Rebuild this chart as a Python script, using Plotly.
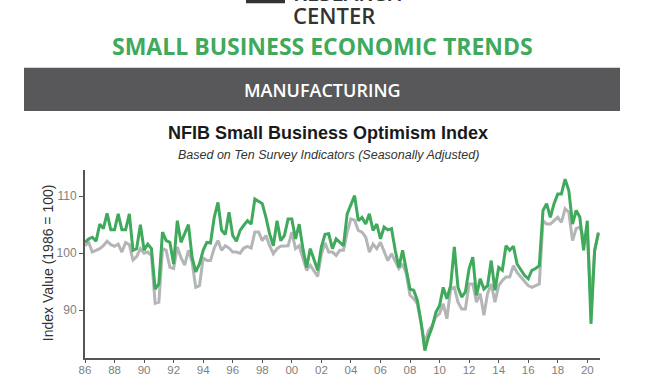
import plotly.graph_objects as go
import pandas as pd

# ---------------- data (quarterly) ----------------
start_quarter = "1986-01-01"
green_index = [
    101.9, 102.5, 102.8, 102.1, 105.1, 104.3, 107.0, 104.1, 104.1, 106.9,
    104.1, 104.1, 106.9, 100.5, 100.8, 105.0, 100.5, 101.6, 100.8, 93.7,
    94.6, 103.7, 102.2, 101.9, 98.1, 105.7, 101.9, 103.4, 105.0, 99.3,
    96.7, 98.1, 100.5, 101.9, 101.8, 106.3, 108.9, 104.0, 103.3, 107.2,
    103.1, 102.1, 104.0, 104.9, 105.7, 105.1, 109.5, 109.1, 108.7, 106.3,
    103.4, 101.3, 105.7, 102.2, 103.1, 106.0, 106.0, 102.5, 105.1, 100.8,
    97.5, 100.8, 99.0, 97.0, 101.1, 103.3, 103.4, 100.8, 102.5, 101.9,
    101.3, 106.9, 108.4, 110.1, 105.7, 106.3, 105.1, 106.9, 104.0, 105.1,
    102.5, 104.6, 104.1, 104.3, 100.5, 97.5, 100.5, 97.0, 93.7, 93.5,
    91.7, 87.9, 82.9, 85.3, 87.0, 89.6, 90.8, 94.0, 92.0, 94.3,
    101.1, 94.0, 92.3, 93.2, 97.3, 99.3, 92.6, 95.5, 93.7, 94.3,
    98.7, 93.5, 97.5, 97.0, 101.3, 100.5, 101.2, 98.1, 97.0, 96.1,
    95.5, 97.0, 97.3, 97.8, 107.5, 108.7, 106.3, 108.7, 110.4, 110.4,
    113.0, 111.0, 105.1, 107.5, 106.3, 100.5, 105.7, 87.6, 100.5, 103.5,
]
gray_index = [
    101.3, 101.9, 100.2, 100.5, 100.8, 101.3, 102.1, 101.5, 101.2, 101.6,
    100.2, 101.9, 101.5, 98.8, 99.4, 100.8, 100.0, 100.2, 99.6, 91.2,
    91.4, 100.8, 100.5, 97.5, 97.3, 101.1, 99.2, 97.9, 100.5, 98.5,
    94.0, 94.3, 99.2, 98.7, 98.7, 100.9, 102.2, 100.5, 101.3, 100.9,
    100.2, 100.2, 100.0, 100.9, 101.2, 100.9, 103.7, 103.7, 102.2, 103.1,
    101.3, 99.9, 100.8, 101.2, 101.3, 101.3, 103.7, 100.8, 101.3, 99.0,
    97.0, 97.9, 97.0, 95.9, 99.9, 101.8, 100.2, 100.2, 99.6, 100.5,
    100.5, 103.7, 106.0, 105.8, 104.0, 103.7, 102.8, 100.2, 101.6, 100.8,
    101.9, 100.2, 98.7, 99.9, 98.7, 97.3, 98.1, 96.4, 92.6, 92.0,
    91.1, 87.6, 84.1, 86.4, 87.3, 88.8, 89.4, 91.1, 88.5, 93.7,
    94.0, 91.4, 90.2, 90.2, 94.6, 94.6, 91.4, 92.9, 89.1, 92.9,
    94.6, 91.4, 94.3, 95.2, 95.8, 95.8, 97.8, 96.6, 95.8, 95.2,
    94.3, 94.0, 94.3, 94.6, 105.7, 105.1, 105.1, 105.7, 106.3, 105.4,
    107.8, 107.2, 102.2, 104.3, 104.6, 102.8, 103.4, 91.1, 100.5, 103.7,
]
quarters = pd.date_range(start_quarter, periods=len(green_index), freq="QS")
y_ticks = [90, 100, 110]

# ---------------- page geometry helpers ----------------
W, H = 649, 375
PL, PR, PT, PB = 85, 600, 170, 357.7


def px(x):
    return (x - PL) / (PR - PL)


def py(y):
    return (PB - y) / (PB - PT)


fig = go.Figure()
fig.add_trace(go.Scatter(x=quarters, y=gray_index, mode="lines",
                         line=dict(color="#b3b5b7", width=3), hoverinfo="skip"))
fig.add_trace(go.Scatter(x=quarters, y=green_index, mode="lines",
                         line=dict(color="#3fa95c", width=3), hoverinfo="skip"))

head = "Open Sans, Noto Sans, sans-serif"
arial = "Liberation Sans, Arial, sans-serif"

shapes = [
    dict(type="rect", xref="paper", yref="paper", x0=px(24), x1=px(620),
         y0=py(111), y1=py(68), fillcolor="#58585a", line=dict(width=0), layer="below"),
    dict(type="rect", xref="paper", yref="paper", x0=px(246), x1=px(285),
         y0=py(3.5), y1=py(-10), fillcolor="#333333", line=dict(width=0)),
]

annotations = [
    dict(text="RESEARCH", x=px(291), y=py(-8), xanchor="left", yanchor="middle",
         font=dict(family=head, size=22, color="#333333", weight=600), showarrow=False,
         xref="paper", yref="paper"),
    dict(text="CENTER", x=px(291), y=py(15), xanchor="left", yanchor="middle",
         font=dict(family=head, size=22, color="#333333", weight=600), showarrow=False,
         xref="paper", yref="paper"),
    dict(text="<b>SMALL BUSINESS ECONOMIC TRENDS</b>", x=px(322), y=py(46),
         xanchor="center", yanchor="middle",
         font=dict(family=head, size=23, color="#3fa95c"), showarrow=False,
         xref="paper", yref="paper"),
    dict(text="MANUFACTURING", x=px(322), y=py(90),
         xanchor="center", yanchor="middle",
         font=dict(family=head, size=18, color="#ffffff", weight=600), showarrow=False,
         xref="paper", yref="paper"),
    dict(text="<b>NFIB Small Business Optimism Index</b>", x=px(328), y=py(133),
         xanchor="center", yanchor="middle",
         font=dict(family=arial, size=18, color="#1a1a1a"), showarrow=False,
         xref="paper", yref="paper"),
    dict(text="<i>Based on Ten Survey Indicators (Seasonally Adjusted)</i>",
         x=px(328), y=py(155), xanchor="center", yanchor="middle",
         font=dict(family=arial, size=12.5, color="#333333"), showarrow=False,
         xref="paper", yref="paper"),
    dict(text="Index Value (1986 = 100)", x=px(48), y=py(263), textangle=-90,
         xanchor="center", yanchor="middle",
         font=dict(family=arial, size=14, color="#333333"), showarrow=False,
         xref="paper", yref="paper"),
]

fig.update_layout(
    width=W, height=H, autosize=False,
    margin=dict(l=PL, r=W - PR, t=PT, b=H - PB, pad=0, autoexpand=False),
    paper_bgcolor="white", plot_bgcolor="white",
    showlegend=False,
    shapes=shapes,
    annotations=annotations,
    xaxis=dict(
        type="date", range=["1986-01-01", "2020-11-10"],
        tick0="1986-01-01", dtick="M24", tickformat="%y",
        showgrid=False, zeroline=False, automargin=False,
        showline=True, linecolor="#555555", linewidth=2,
        ticks="outside", ticklen=3, tickcolor="#555555", tickwidth=1,
        ticklabelstandoff=-3,
        tickfont=dict(family=arial, size=11.5, color="#808080"),
    ),
    yaxis=dict(
        range=[81.6, 114.6], tickvals=y_ticks,
        showgrid=False, zeroline=False, automargin=False,
        showline=True, linecolor="#555555", linewidth=2,
        ticks="outside", ticklen=4, tickcolor="#555555", tickwidth=1,
        tickfont=dict(family=arial, size=12, color="#808080"),
    ),
)

fig.write_html(
    "out.html",
    config={"responsive": False, "displayModeBar": False},
    post_script=(
        "document.body.style.margin='0';document.body.style.padding='0';"
        "document.body.style.overflow='hidden';"
    ),
)
